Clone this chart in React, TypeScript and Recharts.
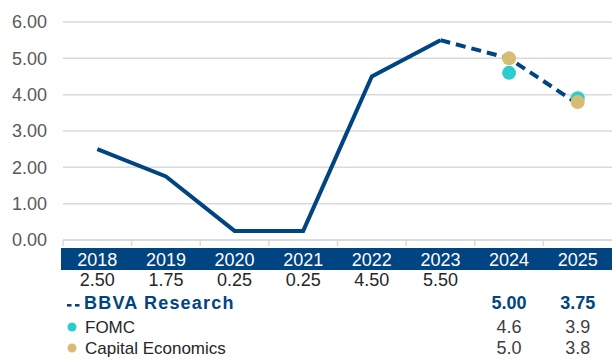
import React from "react";
import { LineChart, Line, XAxis, YAxis, CartesianGrid } from "recharts";

const years = ["2018", "2019", "2020", "2021", "2022", "2023", "2024", "2025"];
const fedRate = [2.5, 1.75, 0.25, 0.25, 4.5, 5.5, null, null];
const bbvaForecast = [null, null, null, null, null, 5.5, 5.0, 3.75];
const fomc = [null, null, null, null, null, null, 4.6, 3.9];
const capitalEconomics = [null, null, null, null, null, null, 5.0, 3.8];
const yTicks = [0, 1, 2, 3, 4, 5, 6];

const NAVY = "#004481";
const TEAL = "#2DCCCD";
const SAND = "#D6BC74";
const GRID = "#d9d9d9";
const FONT = "'Liberation Sans', Arial, sans-serif";

const W = 612;
const H = 359;
const LEFT = 63;
const BW = (W - LEFT) / years.length;

const data = years.map((year, i) => ({
  year,
  actual: fedRate[i],
  bbva: bbvaForecast[i],
  fomc: fomc[i],
  capital: capitalEconomics[i],
}));

function TableTick(props: any) {
  const { x, y, payload } = props;
  const i = payload.index;
  const left = x - BW / 2;
  return (
    <g fontFamily={FONT}>
      {i === 0 && <rect x={left - 2} y={y + 8} width={W - left + 2} height={22} fill={NAVY} />}
      <line x1={left} x2={left} y1={y} y2={y + 6} stroke={GRID} strokeWidth={1.5} />
      <text x={x} y={y + 20} fill="#fff" fontSize={18} textAnchor="middle" dominantBaseline="central">
        {payload.value}
      </text>
      {fedRate[i] != null && (
        <text x={x} y={y + 40} fill="#262626" fontSize={18} textAnchor="middle" dominantBaseline="central">
          {fedRate[i]!.toFixed(2)}
        </text>
      )}
      {fedRate[i] == null && bbvaForecast[i] != null && (
        <text x={x} y={y + 63} fill={NAVY} fontSize={18} fontWeight="bold" textAnchor="middle" dominantBaseline="central">
          {bbvaForecast[i]!.toFixed(2)}
        </text>
      )}
      {fomc[i] != null && (
        <text x={x} y={y + 87} fill="#404040" fontSize={18} textAnchor="middle" dominantBaseline="central">
          {fomc[i]!.toFixed(1)}
        </text>
      )}
      {capitalEconomics[i] != null && (
        <text x={x} y={y + 108} fill="#404040" fontSize={18} textAnchor="middle" dominantBaseline="central">
          {capitalEconomics[i]!.toFixed(1)}
        </text>
      )}
      {i === 0 && (
        <g>
          {/* dashed-line key */}
          <rect x={left + 4} y={y + 64} width={4.5} height={2.6} fill={NAVY} />
          <rect x={left + 12} y={y + 64} width={4.5} height={2.6} fill={NAVY} />
          <text x={left + 21} y={y + 63} fill={NAVY} fontSize={18} fontWeight="bold" letterSpacing={1.2} dominantBaseline="central">
            BBVA Research
          </text>
          <circle cx={left + 9} cy={y + 87} r={4.5} fill={TEAL} />
          <text x={left + 22} y={y + 87} fill="#262626" fontSize={17} dominantBaseline="central">
            FOMC
          </text>
          <circle cx={left + 9} cy={y + 108} r={4.5} fill={SAND} />
          <text x={left + 22} y={y + 108} fill="#262626" fontSize={17} dominantBaseline="central">
            Capital Economics
          </text>
        </g>
      )}
    </g>
  );
}

export default function App() {
  return (
    <div style={{ width: W, height: H, background: "#fff" }}>
      <style>{`body{margin:0}`}</style>
      <LineChart width={W} height={H} data={data} margin={{ top: 22, right: 0, left: 0, bottom: 0 }}>
        <CartesianGrid vertical={false} stroke={GRID} strokeWidth={1.5} />
        <XAxis
          dataKey="year"
          height={119}
          interval={0}
          padding={{ left: BW / 2, right: BW / 2 }}
          tickLine={false}
          tickSize={0}
          tickMargin={0}
          axisLine={{ stroke: GRID, strokeWidth: 1.5 }}
          tick={(p: any) => <TableTick {...p} />}
        />
        <YAxis
          domain={[0, 6]}
          ticks={yTicks}
          width={LEFT}
          axisLine={false}
          tickLine={false}
          tickMargin={10}
          tickFormatter={(v: number) => v.toFixed(2)}
          tick={{ fill: "#595959", fontSize: 18, fontFamily: FONT }}
        />
        <Line dataKey="actual" type="linear" stroke={NAVY} strokeWidth={4} dot={false} isAnimationActive={false} />
        <Line
          dataKey="bbva"
          type="linear"
          stroke={NAVY}
          strokeWidth={4}
          strokeDasharray="10 6"
          dot={false}
          isAnimationActive={false}
        />
        <Line
          dataKey="fomc"
          stroke="none"
          strokeWidth={0}
          dot={{ r: 7, fill: TEAL, stroke: "none" }}
          activeDot={false}
          isAnimationActive={false}
        />
        <Line
          dataKey="capital"
          stroke="none"
          strokeWidth={0}
          dot={{ r: 7, fill: SAND, stroke: "none" }}
          activeDot={false}
          isAnimationActive={false}
        />
      </LineChart>
    </div>
  );
}
